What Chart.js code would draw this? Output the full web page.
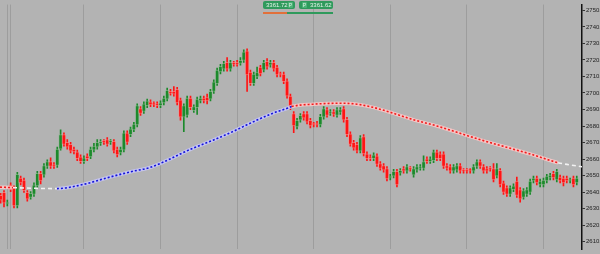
<!DOCTYPE html>
<html lang="en">
<head>
<meta charset="UTF-8">
<title>Candles</title>
<script src="https://cdn.jsdelivr.net/npm/chart.js"></script>
<style>
  html, body { margin: 0; padding: 0; background: #b3b3b3; }
  .wrap { position: relative; width: 600px; height: 254px; overflow: hidden; background: #b3b3b3; }
  .badge {
    position: absolute; top: 1px; height: 8px;
    background: #2f9a5c; border-radius: 2px;
    color: #e6f3ea; font: 6px/8px Arial, "Liberation Sans", sans-serif;
    white-space: nowrap;
  }
  .badge .v { position: absolute; top: 0; }
  .badge .p { position: absolute; top: 1px; width: 5px; height: 6px; line-height: 6px; font-size: 5px; text-align: center; background: #4bb276; border-radius: 1px; }
  .uline { position: absolute; top: 12px; height: 2px; }
</style>
</head>
<body>
<div class="wrap">
  <canvas id="chart"></canvas>
  <div class="badge" style="left:263px;width:32px;"><span class="v" style="left:3px;">3361.72</span><span class="p" style="left:25px;">P</span></div>
  <div class="badge" style="left:299px;width:34px;"><span class="p" style="left:3px;">P</span><span class="v" style="left:11px;">3361.62</span></div>
  <div class="uline" style="left:263px;width:24px;background:#e2703a;"></div>
  <div class="uline" style="left:287px;width:46px;background:#2f9a5c;"></div>
</div>

<script>
// OHLC of each bar
const opens = [
  2638.0, 2639.8, 2632.8, 2644.4, 2642.7, 2631.6, 2648.5, 2647.3, 2639.8, 2636.8,
  2638.6, 2643.8, 2651.4, 2650.3, 2655.5, 2658.4, 2656.7, 2656.1, 2666.0, 2674.8,
  2670.1, 2668.9, 2666.0, 2664.3, 2661.3, 2658.4, 2661.9, 2661.3, 2665.4, 2667.2,
  2669.5, 2670.7, 2671.8, 2670.1, 2670.7, 2666.0, 2663.7, 2665.4, 2675.9, 2674.8,
  2677.7, 2680.6, 2690.5, 2688.8, 2692.3, 2694.6, 2693.4, 2693.4, 2692.3, 2694.0,
  2696.3, 2701.0, 2701.0, 2702.2, 2695.8, 2685.3, 2686.4, 2696.9, 2689.3, 2691.1,
  2695.2, 2696.9, 2697.5, 2696.3, 2701.0, 2705.7, 2712.7, 2714.4, 2718.5, 2714.4,
  2717.9, 2718.5, 2717.9, 2719.7, 2725.5, 2712.7, 2705.7, 2709.7, 2715.6, 2713.8,
  2719.1, 2716.8, 2718.5, 2715.6, 2711.5, 2711.5, 2707.4, 2698.1, 2687.6, 2679.4,
  2683.5, 2687.6, 2687.6, 2683.5, 2681.2, 2681.8, 2680.6, 2685.3, 2689.9, 2687.6,
  2688.8, 2686.4, 2688.2, 2690.5, 2684.1, 2675.3, 2670.1, 2668.9, 2664.8, 2673.6,
  2663.1, 2661.3, 2660.2, 2661.9, 2657.3, 2656.1, 2654.3, 2648.5, 2649.7, 2652.6,
  2651.4, 2654.3, 2652.6, 2654.3, 2650.3, 2653.2, 2654.3, 2654.3, 2660.2, 2658.4,
  2659.0, 2664.3, 2663.1, 2663.1, 2656.1, 2655.5, 2652.6, 2653.2, 2656.1, 2653.2,
  2653.2, 2653.2, 2652.6, 2655.5, 2658.4, 2655.5, 2654.3, 2654.3, 2654.3, 2649.7,
  2653.2, 2645.6, 2642.7, 2638.6, 2641.5, 2646.7, 2641.5, 2636.8, 2638.6, 2639.8,
  2646.7, 2648.5, 2644.4, 2644.4, 2646.7, 2648.5, 2651.4, 2647.3, 2649.1, 2648.5,
  2648.5, 2646.7, 2648.5, 2645.6
];
const highs = [
  2639.2, 2640.9, 2635.1, 2645.6, 2643.8, 2652.0, 2649.7, 2648.5, 2640.9, 2640.3,
  2645.6, 2652.6, 2652.6, 2657.3, 2659.6, 2660.8, 2657.8, 2667.2, 2677.7, 2675.9,
  2671.8, 2670.1, 2667.2, 2665.4, 2662.5, 2661.9, 2663.1, 2667.2, 2669.5, 2671.8,
  2671.8, 2671.8, 2673.0, 2671.8, 2671.8, 2667.2, 2667.2, 2677.1, 2677.1, 2679.4,
  2682.3, 2693.4, 2691.7, 2694.6, 2696.3, 2695.8, 2694.6, 2694.6, 2695.2, 2698.1,
  2703.0, 2702.2, 2703.9, 2703.4, 2696.9, 2693.4, 2698.1, 2698.1, 2692.8, 2697.5,
  2698.1, 2698.1, 2699.3, 2702.2, 2708.0, 2715.0, 2717.3, 2719.1, 2721.4, 2719.7,
  2719.1, 2719.7, 2721.4, 2726.1, 2726.7, 2713.8, 2712.7, 2715.6, 2716.8, 2719.7,
  2720.8, 2719.7, 2719.7, 2716.8, 2712.7, 2712.7, 2708.6, 2699.3, 2688.8, 2684.7,
  2687.6, 2688.8, 2688.8, 2684.7, 2682.3, 2682.9, 2687.0, 2691.7, 2691.1, 2689.9,
  2689.9, 2691.1, 2691.1, 2691.7, 2685.3, 2676.5, 2671.3, 2670.1, 2674.2, 2674.8,
  2664.3, 2662.5, 2663.7, 2663.1, 2658.4, 2657.3, 2655.5, 2650.8, 2653.8, 2653.8,
  2654.3, 2655.5, 2656.7, 2655.5, 2655.5, 2656.7, 2656.7, 2661.9, 2661.3, 2661.3,
  2665.4, 2665.4, 2664.3, 2664.3, 2657.3, 2656.7, 2656.7, 2657.3, 2657.3, 2654.3,
  2654.3, 2654.3, 2656.7, 2659.6, 2659.6, 2656.7, 2655.5, 2655.5, 2657.3, 2657.3,
  2654.3, 2646.7, 2643.8, 2643.8, 2645.0, 2649.1, 2642.7, 2642.1, 2642.7, 2647.9,
  2649.7, 2649.7, 2647.9, 2648.5, 2650.8, 2651.4, 2652.6, 2653.8, 2650.3, 2649.7,
  2649.7, 2648.5, 2649.7, 2649.7
];
const lows = [
  2633.3, 2631.0, 2631.6, 2640.3, 2630.4, 2630.4, 2644.4, 2639.8, 2634.5, 2635.7,
  2637.4, 2642.7, 2645.0, 2649.1, 2654.3, 2654.3, 2654.3, 2654.9, 2665.4, 2667.8,
  2666.0, 2663.7, 2663.1, 2659.0, 2657.3, 2657.3, 2659.0, 2660.2, 2664.3, 2666.0,
  2668.3, 2668.9, 2667.8, 2668.9, 2663.7, 2661.3, 2662.5, 2664.3, 2668.9, 2673.6,
  2676.5, 2679.4, 2686.4, 2687.6, 2691.1, 2691.7, 2691.7, 2691.1, 2691.1, 2692.8,
  2695.2, 2698.7, 2698.1, 2692.8, 2683.5, 2676.5, 2685.3, 2689.9, 2688.2, 2687.0,
  2694.0, 2694.0, 2693.4, 2695.2, 2699.8, 2704.5, 2711.5, 2713.2, 2713.2, 2713.2,
  2716.2, 2716.2, 2716.8, 2718.5, 2701.0, 2704.5, 2704.5, 2708.6, 2710.3, 2712.7,
  2714.4, 2715.6, 2713.2, 2709.7, 2709.7, 2705.7, 2696.9, 2689.9, 2675.9, 2678.3,
  2682.3, 2683.5, 2681.2, 2678.8, 2679.4, 2679.4, 2679.4, 2684.1, 2685.3, 2686.4,
  2685.8, 2685.3, 2687.0, 2682.3, 2673.6, 2667.8, 2665.4, 2663.7, 2663.7, 2661.9,
  2659.0, 2659.0, 2659.0, 2655.5, 2653.2, 2652.0, 2646.7, 2647.3, 2648.5, 2643.2,
  2650.3, 2651.4, 2651.4, 2652.6, 2649.1, 2652.0, 2653.2, 2653.2, 2657.3, 2657.3,
  2657.8, 2659.0, 2659.0, 2654.3, 2653.2, 2651.4, 2651.4, 2652.0, 2651.4, 2651.4,
  2651.4, 2651.4, 2651.4, 2654.3, 2654.3, 2651.4, 2651.4, 2652.6, 2646.2, 2648.5,
  2643.2, 2638.6, 2637.4, 2637.4, 2640.3, 2636.8, 2633.9, 2635.7, 2637.4, 2638.6,
  2645.6, 2644.4, 2643.2, 2643.2, 2645.6, 2647.3, 2647.3, 2646.2, 2645.6, 2643.8,
  2645.6, 2645.6, 2643.2, 2644.4
];
const closes = [
  2635.1, 2633.3, 2633.9, 2641.5, 2631.6, 2650.8, 2645.6, 2640.9, 2635.7, 2639.2,
  2644.4, 2651.4, 2646.7, 2656.1, 2658.4, 2655.5, 2655.5, 2666.0, 2674.8, 2668.9,
  2667.2, 2664.8, 2664.3, 2660.2, 2658.4, 2660.8, 2660.2, 2666.0, 2667.8, 2670.1,
  2670.7, 2670.1, 2668.9, 2670.7, 2664.8, 2662.5, 2666.0, 2675.9, 2670.1, 2678.3,
  2681.2, 2692.3, 2687.6, 2693.4, 2695.2, 2692.8, 2692.8, 2692.3, 2694.0, 2696.9,
  2701.6, 2699.8, 2699.3, 2694.0, 2685.3, 2692.3, 2696.9, 2691.1, 2691.7, 2696.3,
  2696.9, 2695.2, 2695.2, 2701.0, 2706.8, 2713.8, 2716.2, 2717.9, 2714.4, 2718.5,
  2717.3, 2717.3, 2719.7, 2724.9, 2710.9, 2705.7, 2711.5, 2712.7, 2711.5, 2718.5,
  2715.6, 2718.5, 2714.4, 2710.9, 2710.9, 2706.8, 2698.1, 2691.1, 2680.0, 2683.5,
  2686.4, 2684.7, 2682.3, 2680.0, 2680.6, 2680.6, 2685.8, 2690.5, 2686.4, 2688.8,
  2687.0, 2689.9, 2689.9, 2683.5, 2674.8, 2668.9, 2666.6, 2664.8, 2673.0, 2663.1,
  2660.2, 2660.2, 2662.5, 2656.7, 2654.3, 2653.2, 2647.9, 2649.7, 2652.6, 2644.4,
  2653.2, 2652.6, 2655.5, 2653.8, 2654.3, 2655.5, 2655.5, 2658.4, 2658.4, 2660.2,
  2664.3, 2660.2, 2660.2, 2655.5, 2654.3, 2652.6, 2655.5, 2656.1, 2652.6, 2652.6,
  2652.6, 2652.8, 2655.5, 2658.4, 2655.5, 2652.6, 2652.6, 2653.8, 2647.3, 2654.3,
  2644.4, 2639.8, 2638.6, 2642.7, 2643.8, 2638.0, 2635.7, 2640.9, 2641.5, 2646.7,
  2648.5, 2645.6, 2646.7, 2647.3, 2649.7, 2650.3, 2648.5, 2652.6, 2646.7, 2645.6,
  2646.7, 2647.3, 2644.4, 2648.5
];

// moving average, read at a few bar positions
const maX = [-0.2, 3.7, 16.9, 24.7, 32.8, 39.7, 44.8, 57.8, 63.8, 69.8, 75.8, 81.8, 86.3,
             87.4, 93.8, 102.8, 107, 111.8, 117.8, 123.8, 131, 143.9, 153.9, 159, 167.4, 174.6];
const maY = [2643.0, 2642.7, 2642.1, 2644.6, 2649.1, 2652.6, 2654.9, 2666.6, 2671.4, 2676.7,
             2682.5, 2687.8, 2690.9, 2691.8, 2693.2, 2693.8, 2693.2, 2691.3, 2687.8, 2683.9,
             2680.0, 2671.8, 2666.0, 2663.1, 2657.8, 2655.3];

// price ticks on the right axis and bar positions of the vertical grid lines
const yTicks = [2610, 2620, 2630, 2640, 2650, 2660, 2670, 2680, 2690, 2700, 2710, 2720, 2730, 2740, 2750];
const gridIdx = [2, 3, 25, 48, 71, 94, 117, 140, 163];

const UP = '#1c8a2c', DOWN = '#ff1414';
const UP_HALO = 'rgba(150,185,150,0.55)', DOWN_HALO = 'rgba(250,140,140,0.6)';

const isUp = i => closes[i] >= opens[i];

// colour zones of the average line
function maZone(x) {
    if (x < 3.7) return 'red';
    if (x < 16.9) return 'white';
    if (x < 87.4) return 'blue';
    if (x < 167.4) return 'red';
    return 'white';
}
const zoneColor = { red: '#f01c1c', blue: '#1414d8', white: '#f2f2f2' };
const zoneGlow = { red: 'rgba(255,200,200,0.85)', blue: 'rgba(200,200,255,0.8)', white: 'rgba(0,0,0,0)' };

const bodies = opens.map((o, i) => ({ x: i, y: [o, closes[i]] }));
const wicks = lows.map((l, i) => ({ x: i, y: [l, highs[i]] }));
const maPts = maX.map((x, i) => ({ x: x, y: maY[i] }));

const ctx = document.getElementById('chart').getContext('2d');
new Chart(ctx, {
    type: 'bar',
    data: {
        datasets: [
            {
                type: 'line', data: maPts, order: 0,
                borderWidth: 1.6, borderDash: [2, 2],
                pointRadius: 0, cubicInterpolationMode: 'monotone',
                segment: {
                    borderColor: c => zoneColor[maZone(c.p0.parsed.x)],
                    borderDash: c => maZone(c.p0.parsed.x) === 'white' ? [4, 3] : [2, 2]
                }
            },
            {
                type: 'line', data: maPts, order: 1,
                borderWidth: 3.5, pointRadius: 0, cubicInterpolationMode: 'monotone',
                segment: { borderColor: c => zoneGlow[maZone(c.p0.parsed.x)] }
            },
            {
                data: bodies, order: 2, grouped: false,
                barThickness: 4, minBarLength: 2,
                backgroundColor: c => isUp(c.dataIndex) ? UP : DOWN,
                borderColor: c => isUp(c.dataIndex) ? UP_HALO : DOWN_HALO,
                borderWidth: 1, borderSkipped: false
            },
            {
                data: wicks, order: 3, grouped: false,
                barThickness: 1,
                backgroundColor: c => isUp(c.dataIndex) ? UP : DOWN
            }
        ]
    },
    options: {
        responsive: true,
        maintainAspectRatio: false,
        animation: false,
        layout: { padding: 0 },
        plugins: { legend: { display: false }, tooltip: { enabled: false } },
        scales: {
            x: {
                type: 'linear', min: -0.2, max: 174.57, offset: false,
                ticks: { display: false },
                border: { display: false },
                grid: { color: '#9d9d9d', lineWidth: 1, drawTicks: false, offset: false },
                afterBuildTicks: s => { s.ticks = gridIdx.map(v => ({ value: v })); },
                afterFit: s => { s.height = 0; }
            },
            y: {
                position: 'right', min: 2605.3, max: 2753.5,
                border: { display: true, color: '#111', width: 1.5 },
                grid: { drawOnChartArea: false, drawTicks: true, tickLength: 3, tickColor: '#333' },
                ticks: {
                    color: '#222', padding: 1,
                    font: { family: 'Arial, "Liberation Sans", sans-serif', size: 6 },
                    callback: v => v.toFixed(2)
                },
                afterBuildTicks: s => { s.ticks = yTicks.map(v => ({ value: v })); },
                afterFit: s => { s.width = 18; }
            }
        }
    }
});
</script>
</body>
</html>
